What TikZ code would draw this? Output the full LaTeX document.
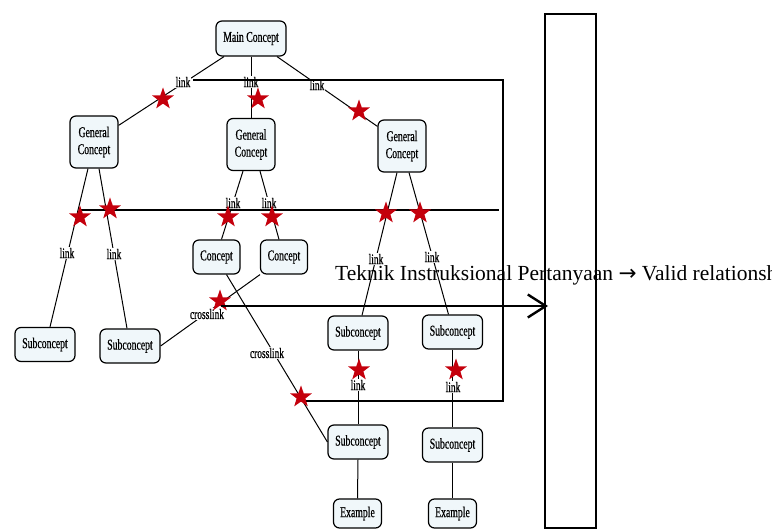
\documentclass[tikz,border=0pt]{standalone}
\usepackage{fontspec}
\setmainfont{Liberation Serif}
\newfontfamily\condfont[FakeStretch=0.65,FakeBold=0.6]{Liberation Serif}
\newfontfamily\symfont{DejaVu Sans}
\usetikzlibrary{shapes.geometric,arrows.meta}
\definecolor{starred}{RGB}{196,0,12}
\definecolor{boxfill}{RGB}{240,247,250}
\begin{document}
\begin{tikzpicture}[x=1pt,y=-1pt,
  cbox/.style={draw=black, line width=1.2pt, rounded corners=6pt, fill=boxfill, inner sep=0pt,
    font=\condfont\fontsize{15}{17}\selectfont, align=center},
  gbox/.style={cbox, minimum width=48pt, minimum height=52pt},
  kbox/.style={cbox, minimum width=47pt, minimum height=34pt},
  sbox/.style={cbox, minimum width=60pt, minimum height=34pt},
  xbox/.style={cbox, minimum width=48pt, minimum height=29pt},
  lbl/.style={fill=white, inner sep=0.8pt, font=\condfont\fontsize{14.5}{16}\selectfont},
  conn/.style={line width=1pt},
  rule/.style={line width=1.2pt},
  redstar/.style={star, star points=5, star point ratio=2.5, minimum size=23pt, inner sep=0pt, fill=starred}
]
\useasboundingbox (0,0) rectangle (772,529);
\clip (0,0) rectangle (772,529);

% concept boxes
\node[cbox, minimum width=70pt, minimum height=35pt] (mc) at (251,38.5) {Main Concept};
\node[gbox] (gl) at (94,142) {General\\Concept};
\node[gbox] (gm) at (251,144.5) {General\\Concept};
\node[gbox] (gr) at (402,146) {General\\Concept};
\node[kbox] (c1) at (216.5,257) {Concept};
\node[kbox] (c2) at (284,257) {Concept};
\node[sbox] (sl1) at (45,344.5) {Subconcept};
\node[sbox] (sl2) at (130,346) {Subconcept};
\node[sbox] (su1) at (358,333) {Subconcept};
\node[sbox] (su2) at (452.5,332) {Subconcept};
\node[sbox] (sm) at (358,442) {Subconcept};
\node[sbox] (sr) at (452.5,445) {Subconcept};
\node[xbox] (ex1) at (357.5,513.5) {Example};
\node[xbox] (ex2) at (452.5,513.5) {Example};

% connectors
\draw[conn] ([xshift=-27pt]mc.south) -- ([yshift=-10pt]gl.north east);
\draw[conn] (mc.south) -- (gm.north);
\draw[conn] ([xshift=26pt]mc.south) -- ([yshift=-7pt]gr.north west);
\draw[conn] ([xshift=-6pt]gl.south) -- ([xshift=5pt]sl1.north);
\draw[conn] ([xshift=5pt]gl.south) -- ([xshift=-3pt]sl2.north);
\draw[conn] ([xshift=-8pt]gm.south) -- ([xshift=5pt]c1.north);
\draw[conn] ([xshift=9pt]gm.south) -- ([xshift=-5pt]c2.north);
\draw[conn] ([xshift=-5pt]gr.south) -- ([xshift=4pt]su1.north);
\draw[conn] ([xshift=7pt]gr.south) -- ([xshift=-4pt]su2.north);
\draw[conn] ([xshift=10pt]c1.south) -- (sm.west);
\draw[conn] ([xshift=-24pt]c2.south) -- (sl2.east);
\draw[conn] (su1.south) -- (sm.north);
\draw[conn] (su2.south) -- (sr.north);
\draw[conn] (sm.south) -- (ex1.north);
\draw[conn] (sr.south) -- (ex2.north);

% link labels
\node[lbl] (k1) at (183,82) {link};
\node[lbl] (k2) at (251,82) {link};
\node[lbl] (k3) at (317,85) {link};
\node[lbl] (k4) at (67,253) {link};
\node[lbl] (k5) at (114,254) {link};
\node[lbl] (k6) at (233,203) {link};
\node[lbl] (k7) at (269,203) {link};
\node[lbl] (k8) at (376,259) {link};
\node[lbl] (k9) at (432,257) {link};
\node[lbl] (k10) at (358,385) {link};
\node[lbl] (k11) at (453,387) {link};
\node[lbl] (x1) at (207,314) {crosslink};
\node[lbl] (x2) at (267,353) {crosslink};

% overlay rules
\draw[rule] (193,80) -- (503,80) -- (503,401) -- (300,401);
\draw[rule] (80,210) -- (499,210);

% stars
\node[redstar] (s1) at (163,99) {};
\node[redstar] (s2) at (258,99) {};
\node[redstar] (s3) at (359,111) {};
\node[redstar] (s4) at (80,217) {};
\node[redstar] (s5) at (110,209) {};
\node[redstar] (s6) at (228,217) {};
\node[redstar] (s7) at (272,217) {};
\node[redstar] (s8) at (386,213) {};
\node[redstar] (s9) at (420,213) {};
\node[redstar] (s10) at (220,301) {};
\node[redstar] (s11) at (301,397) {};
\node[redstar] (s12) at (359,370) {};
\node[redstar] (s13) at (456,370) {};

% right panel, caption and arrow
\node[draw, line width=1.5pt, minimum width=51pt, minimum height=514pt, inner sep=0pt] (panel) at (570.5,271) {};
\node[anchor=base west, inner sep=0pt, font=\fontsize{21.5}{24}\selectfont] (caption) at (335,281)
  {Teknik Instruksional Pertanyaan {\symfont →} Valid relationship};
\coordinate (as) at (221,306);
\coordinate (ae) at (548,306);
\draw[line width=2.4pt, -{Straight Barb[length=18pt,width=23pt]}] (as) -- (ae);
\end{tikzpicture}
\end{document}
